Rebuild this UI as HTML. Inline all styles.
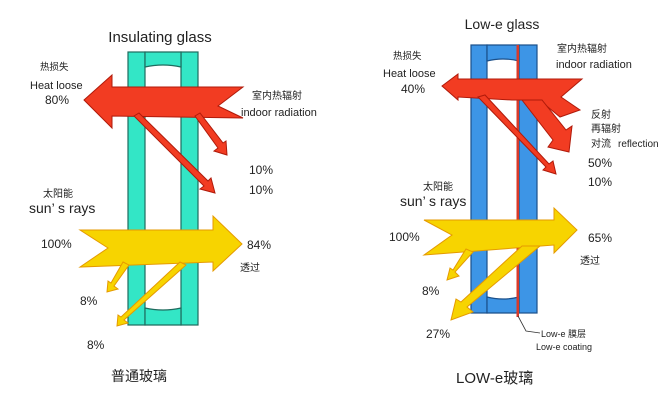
<!DOCTYPE html>
<html><head><meta charset="utf-8"><style>
html,body{margin:0;padding:0;background:#fff;}
svg{display:block;}
text{font-family:"Liberation Sans","Noto Sans CJK SC",sans-serif;fill:#222;}
</style></head><body>
<svg width="667" height="401" viewBox="0 0 667 401" xmlns="http://www.w3.org/2000/svg">
<!-- LEFT GLASS -->
<g stroke="#1f6b5e" stroke-width="1.2">
<rect x="128" y="52" width="17" height="273" fill="#33e6c6"/>
<rect x="181" y="52" width="17" height="273" fill="#33e6c6"/>
<path d="M145 52 H181 V67 Q163 63 145 67 Z" fill="#33e6c6"/>
<path d="M145 325 H181 V308 Q163 312 145 308 Z" fill="#33e6c6"/>
</g>
<!-- left red -->
<g fill="#f23c22" stroke="#b01a0a" stroke-width="1">
<polygon points="84,100 112,75 112,87 243,87 218,106 243,118 112,116 112,128"/>
<polygon points="195,116 200,113 223,143 226,141 227,155 214,151 218,148"/>
<polygon points="134,116 139,113 208,181 211,178 215,193 200,189 204,186"/>
</g>
<!-- left yellow -->
<g fill="#f7d400" stroke="#e59a00" stroke-width="1">
<polygon points="80,230 213,230 213,216 242,244 213,271 213,262 80,267 108,248"/>
<polygon points="123,262 129,265 114,286 118,289 107,292 108,281 111,283"/>
<polygon points="180,262 186,265 124,320 128,323 117,326 118,315 121,317"/>
</g>
<!-- RIGHT GLASS -->
<g stroke="#1a4f8a" stroke-width="1.2">
<rect x="471" y="45" width="16" height="268" fill="#3d95e6"/>
<rect x="519" y="45" width="18" height="268" fill="#3d95e6"/>
<path d="M487 45 H519 V61 Q503 57 487 61 Z" fill="#3d95e6"/>
<path d="M487 313 H519 V297 Q503 301 487 297 Z" fill="#3d95e6"/>
</g>
<rect x="516.5" y="45" width="2.5" height="272" fill="#d83a2a"/>
<polyline points="518,316 526,331 540,333" fill="none" stroke="#333" stroke-width="0.8"/>
<!-- right red -->
<g fill="#f23c22" stroke="#b01a0a" stroke-width="1">
<polygon points="442,86 458,74 458,79 582,79 561,97 580,110 560,117 543,103 522,100 512,100 458,97 458,100"/>
<polygon points="522,100 542,100 566,130 572,126 569,152 548,147 553,140"/>
<polygon points="478,97 485,95 549,164 553,161 556,174 543,170 546,167"/>
</g>
<!-- right yellow -->
<g fill="#f7d400" stroke="#e59a00" stroke-width="1">
<polygon points="424,220 554,220 554,208 577,230 554,253 554,245 424,255 452,235"/>
<polygon points="466,249 473,252 455,272 459,276 447,280 450,268 453,270"/>
<polygon points="522,246 540,246 467,307 473,312 451,320 456,299 461,302"/>
</g>
<!-- LEFT TEXT -->
<text x="160" y="42" font-size="15" text-anchor="middle">Insulating glass</text>
<text x="40" y="70" font-size="9.5">热损失</text>
<text x="30" y="89" font-size="11">Heat loose</text>
<text x="45" y="104" font-size="12">80%</text>
<text x="252" y="99" font-size="10">室内热辐射</text>
<text x="241" y="116" font-size="11">indoor radiation</text>
<text x="249" y="174" font-size="12">10%</text>
<text x="249" y="194" font-size="12">10%</text>
<text x="43" y="197" font-size="10">太阳能</text>
<text x="29" y="213" font-size="14">sun’ s rays</text>
<text x="41" y="248" font-size="12">100%</text>
<text x="247" y="249" font-size="12">84%</text>
<text x="240" y="271" font-size="10">透过</text>
<text x="80" y="305" font-size="12">8%</text>
<text x="87" y="349" font-size="12">8%</text>
<text x="111" y="381" font-size="14">普通玻璃</text>
<!-- RIGHT TEXT -->
<text x="502" y="29" font-size="14" text-anchor="middle">Low-e glass</text>
<text x="557" y="52" font-size="10">室内热辐射</text>
<text x="556" y="68" font-size="11">indoor radiation</text>
<text x="393" y="59" font-size="9.5">热损失</text>
<text x="383" y="77" font-size="11">Heat loose</text>
<text x="401" y="93" font-size="12">40%</text>
<text x="591" y="118" font-size="10">反射</text>
<text x="591" y="132" font-size="10">再辐射</text>
<text x="591" y="147" font-size="10">对流</text>
<text x="618" y="147" font-size="10">reflection</text>
<text x="588" y="167" font-size="12">50%</text>
<text x="588" y="186" font-size="12">10%</text>
<text x="423" y="190" font-size="10">太阳能</text>
<text x="400" y="206" font-size="14">sun’ s rays</text>
<text x="389" y="241" font-size="12">100%</text>
<text x="588" y="242" font-size="12">65%</text>
<text x="580" y="264" font-size="10">透过</text>
<text x="422" y="295" font-size="12">8%</text>
<text x="426" y="338" font-size="12">27%</text>
<text x="541" y="337" font-size="9">Low-e 膜层</text>
<text x="536" y="350" font-size="9">Low-e coating</text>
<text x="456" y="383" font-size="15">LOW-e玻璃</text>
</svg>
</body></html>
